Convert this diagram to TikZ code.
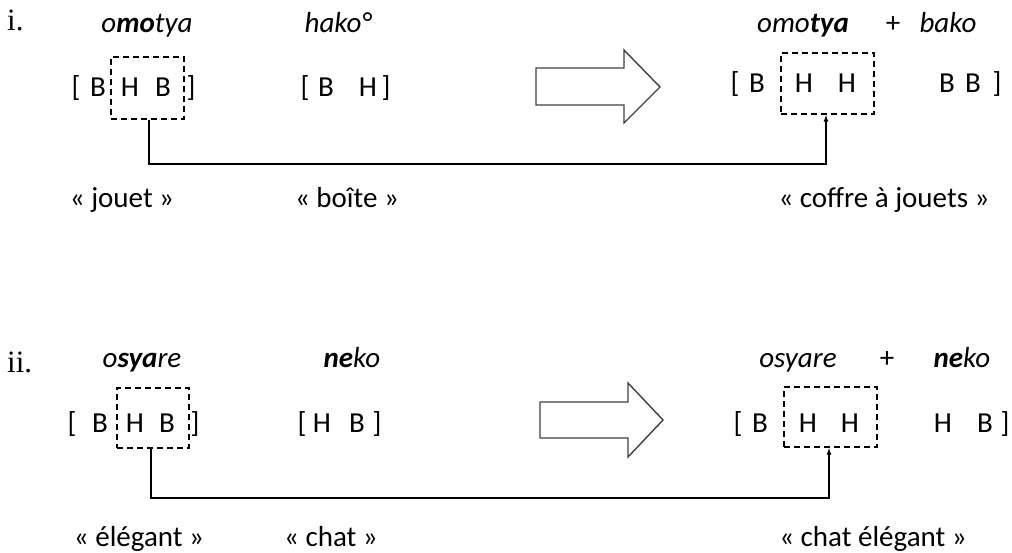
\documentclass[tikz,border=0pt]{standalone}
\usepackage{fontspec}
\usetikzlibrary{arrows.meta}
\setmainfont{Carlito}
\newfontfamily\numfont{Liberation Serif}
\begin{document}
\begin{tikzpicture}[x=1pt,y=-1pt,
  txt/.style={inner sep=0pt,anchor=base,font=\fontsize{29}{34}\selectfont},
  word/.style={inner sep=0pt,anchor=base,font=\fontsize{29}{34}\selectfont\itshape},
  gloss/.style={inner sep=0pt,anchor=base,font=\fontsize{29}{34}\selectfont},
  num/.style={inner sep=0pt,anchor=base west,font=\fontsize{31}{36}\selectfont\numfont},
  dbox/.style={draw,dash pattern=on 6pt off 4pt,line width=1.1pt,inner sep=0pt},
  link/.style={draw,line width=1.3pt,-{Latex[length=7pt,width=5pt]}},
  bigarrow/.style={draw=black!75,line width=1.4pt,line join=miter}]
\useasboundingbox (0,0) rectangle (1012,553);
% ---------- row i ----------
\node[num] (ni) at (7,31) {i.};
\node[word] (w1) at (147,33) {o\textbf{mo}tya};
\node[word] (w2) at (338,33) {hako°};
\node[word] (w3) at (803,33) {omo\textbf{tya}};
\node[txt] (p1) at (893,33) {+};
\node[word] (w4) at (948,33) {bako};
\node[txt] (a1) at (76,97) {[};
\node[txt] (a2) at (98,97) {B};
\node[txt] (a3) at (130,97) {H};
\node[txt] (a4) at (163,97) {B};
\node[txt] (a5) at (191,97) {]};
\node[dbox,minimum width=73pt,minimum height=62pt] (b1) at (147.5,88) {};
\node[txt] (c1) at (305,97) {[};
\node[txt] (c2) at (326,97) {B};
\node[txt] (c3) at (368,97) {H};
\node[txt] (c4) at (386,97) {]};
\node[txt] (d1) at (735,93) {[};
\node[txt] (d2) at (757,93) {B};
\node[txt] (d3) at (804,93) {H};
\node[txt] (d4) at (847,93) {H};
\node[txt] (d5) at (947,93) {B};
\node[txt] (d6) at (973,93) {B};
\node[txt] (d7) at (997,93) {]};
\node[dbox,minimum width=93pt,minimum height=61pt] (b2) at (827.5,83.5) {};
\draw[bigarrow] (536,68) -- (624,68) -- (624,50) -- (660,87) -- (624,123) -- (624,105) -- (536,105) -- cycle;
\coordinate (k1) at (149,164);
\coordinate (k1b) at (826,164);
\draw[link] (b1.south -| k1) -- (k1) -- (k1b) -- (k1b |- b2.south);
\node[gloss] (g1) at (122,208) {« jouet »};
\node[gloss] (g2) at (347,208) {« boîte »};
\node[gloss] (g3) at (884,208) {« coffre à jouets »};
% ---------- row ii ----------
\node[num] (nii) at (7,372) {ii.};
\node[word] (v1) at (142,367) {o\textbf{sya}re};
\node[word] (v2) at (352,367) {\textbf{ne}ko};
\node[word] (v3) at (798,367) {osyare};
\node[txt] (p2) at (887,367) {+};
\node[word] (v4) at (962,367) {\textbf{ne}ko};
\node[txt] (e1) at (72,432) {[};
\node[txt] (e2) at (100,432) {B};
\node[txt] (e3) at (135,432) {H};
\node[txt] (e4) at (167,432) {B};
\node[txt] (e5) at (195,432) {]};
\node[dbox,minimum width=72pt,minimum height=60pt] (b3) at (153,418) {};
\node[txt] (f1) at (302,432) {[};
\node[txt] (f2) at (322,432) {H};
\node[txt] (f3) at (357,432) {B};
\node[txt] (f4) at (377,432) {]};
\node[txt] (h1) at (738,432) {[};
\node[txt] (h2) at (760,432) {B};
\node[txt] (h3) at (808,432) {H};
\node[txt] (h4) at (850,432) {H};
\node[txt] (h5) at (943,432) {H};
\node[txt] (h6) at (985,432) {B};
\node[txt] (h7) at (1005,432) {]};
\node[dbox,minimum width=93pt,minimum height=60pt] (b4) at (830.5,417) {};
\draw[bigarrow] (540,402) -- (628,402) -- (628,383) -- (663,420) -- (628,457) -- (628,438) -- (540,438) -- cycle;
\coordinate (k2) at (151,498);
\coordinate (k2b) at (829,498);
\draw[link] (b3.south -| k2) -- (k2) -- (k2b) -- (k2b |- b4.south);
\node[gloss] (g4) at (139,546) {« élégant »};
\node[gloss] (g5) at (331,546) {« chat »};
\node[gloss] (g6) at (873,546) {« chat élégant »};
\end{tikzpicture}
\end{document}
